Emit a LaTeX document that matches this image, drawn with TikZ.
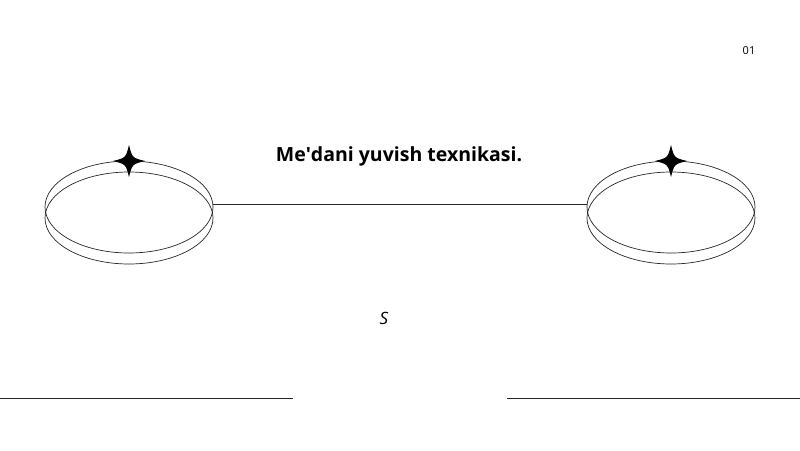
\documentclass[tikz,border=0pt]{standalone}
\usepackage{fontspec}
\setmainfont{Open Sans}
\usetikzlibrary{shapes.geometric,calc}
\tikzset{
  ring/.style={ellipse, draw=black!85, line width=0.7pt, minimum width=168pt, minimum height=92pt, inner sep=0pt},
  link/.style={draw=black!85, line width=0.7pt},
  sparkle/.style={fill=black}
}
\newcommand{\sparklepath}[1]{%
  \fill[sparkle] ($(#1)+(0,-16)$) .. controls ($(#1)+(3.2,-3.2)$) .. ($(#1)+(16,0)$)
    .. controls ($(#1)+(3.2,3.2)$) .. ($(#1)+(0,16)$)
    .. controls ($(#1)+(-3.2,3.2)$) .. ($(#1)+(-16,0)$)
    .. controls ($(#1)+(-3.2,-3.2)$) .. cycle;}
\begin{document}
\begin{tikzpicture}[x=1pt,y=-1pt]
\useasboundingbox (0,0) rectangle (800,450);
\node[ring] (L1) at (129,207) {};
\node[ring] (L2) at (129,218) {};
\node[ring] (R1) at (671,207) {};
\node[ring] (R2) at (671,218) {};
\coordinate (SL) at (129,161);
\coordinate (SR) at (671,161);
\sparklepath{SL}
\sparklepath{SR}
\draw[link] ([yshift=3pt]L1.east) -- ([yshift=3pt]R1.west);
\node[font=\fontsize{19.5}{24}\selectfont\bfseries] (title) at (399,156) {Me\textquotesingle dani yuvish texnikasi.};
\node[font=\fontsize{11}{13}\selectfont] (num) at (749,51) {01};
\node[font=\fontsize{17}{20}\selectfont\itshape] (s) at (384,318) {S};
\coordinate (B1) at (0,398);
\coordinate (B2) at (293,398);
\coordinate (B3) at (507,398);
\coordinate (B4) at (800,398);
\draw[link] (B1) -- (B2);
\draw[link] (B3) -- (B4);
\end{tikzpicture}
\end{document}
